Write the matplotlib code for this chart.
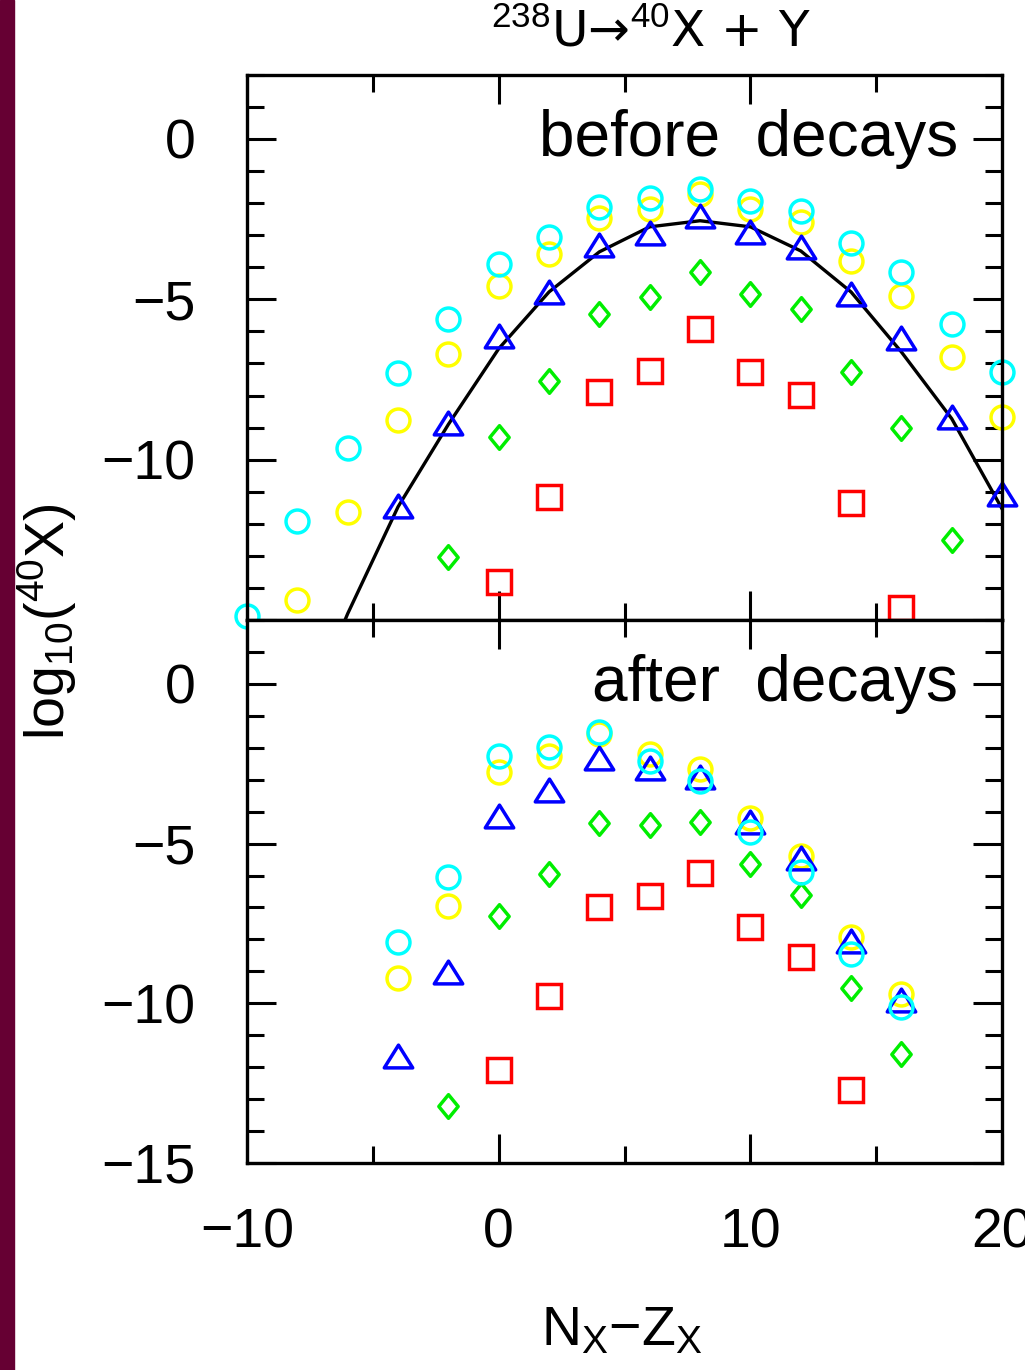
import matplotlib
matplotlib.use('Agg')
import matplotlib.pyplot as plt
import numpy as np
from matplotlib.markers import MarkerStyle
from matplotlib.patches import Rectangle
from matplotlib.path import Path
from matplotlib.ticker import MultipleLocator

plt.rcParams['font.family'] = ['Liberation Sans', 'DejaVu Sans']
plt.rcParams['mathtext.fontset'] = 'custom'
plt.rcParams['mathtext.rm'] = 'Liberation Sans'
plt.rcParams['mathtext.it'] = 'Liberation Sans:italic'
plt.rcParams['mathtext.bf'] = 'Liberation Sans:bold'

# N-Z of the 40X fragment, log10 yields before decays
nz_cyan_pre = np.arange(-10, 21, 2)
cyan_pre = [-14.86, -11.9, -9.63, -7.29, -5.61, -3.89, -3.05, -2.12,
            -1.84, -1.56, -1.93, -2.24, -3.24, -4.14, -5.76, -7.26]
nz_yellow_pre = np.arange(-8, 21, 2)
yellow_pre = [-14.36, -11.62, -8.75, -6.70, -4.58, -3.58, -2.45, -2.18,
              -1.71, -2.18, -2.59, -3.80, -4.89, -6.79, -8.66]
nz_blue_pre = np.arange(-4, 21, 2)
blue_pre = [-11.43, -8.85, -6.14, -4.77, -3.30, -2.93, -2.40, -2.90,
            -3.37, -4.83, -6.20, -8.66, -11.06]
nz_green_pre = np.arange(-2, 19, 2)
green_pre = [-13.02, -9.28, -7.54, -5.45, -4.92, -4.14, -4.83, -5.30,
             -7.26, -9.0, -12.49]
nz_red_pre = np.arange(0, 17, 2)
red_pre = [-13.8, -11.15, -7.88, -7.23, -5.92, -7.26, -7.98, -11.34, -14.61]

# reference curve (top panel)
nz_curve = np.arange(-8, 21, 2)
curve = [-18.55, -14.8, -11.47, -8.9, -6.54, -4.77, -3.52, -2.74,
         -2.55, -2.74, -3.49, -4.77, -6.64, -8.72, -11.53]

# after decays
nz_cyan_post = np.arange(-4, 17, 2)
cyan_post = [-8.09, -6.05, -2.26, -1.97, -1.50, -2.40, -3.04, -4.64,
             -5.89, -8.46, -10.13]
nz_yellow_post = np.arange(-4, 17, 2)
yellow_post = [-9.22, -6.96, -2.76, -2.26, -1.57, -2.19, -2.66, -4.20,
               -5.39, -7.93, -9.72]
nz_blue_post = np.arange(-4, 17, 2)
blue_post = [-11.66, -9.03, -4.14, -3.32, -2.32, -2.63, -2.92, -4.33,
             -5.45, -8.06, -9.9]
nz_green_post = np.arange(-2, 17, 2)
green_post = [-13.2, -7.27, -5.96, -4.36, -4.42, -4.33, -5.64, -6.61,
              -9.53, -11.6]
nz_red_post = np.arange(0, 15, 2)
red_post = [-12.1, -9.78, -6.99, -6.65, -5.92, -7.62, -8.56, -12.7]

CYAN, YELLOW, BLUE, GREEN, RED = '#00ffff', '#ffff00', '#0000ff', '#00ee00', '#ff0000'

tri = MarkerStyle(Path([(0, 0.8), (-1, -0.8), (1, -0.8), (0, 0.8)], closed=True),
                  joinstyle='miter')
dia = MarkerStyle(Path([(0, 1), (0.82, 0), (0, -1), (-0.82, 0), (0, 1)], closed=True),
                  joinstyle='miter')


def pts(ax, x, y, color, marker, ms):
    ax.plot(x, y, linestyle='none', marker=marker, ms=ms, mfc='none',
            mec=color, mew=2.5, clip_on=False)


def frame(ax):
    ax.set_xlim(-10, 20)
    ax.set_ylim(-15, 2)
    ax.xaxis.set_major_locator(MultipleLocator(10))
    ax.xaxis.set_minor_locator(MultipleLocator(5))
    ax.yaxis.set_major_locator(MultipleLocator(5))
    ax.yaxis.set_minor_locator(MultipleLocator(1))
    ax.tick_params(which='both', direction='in', top=True, right=True,
                   width=2.2, labelsize=40)
    ax.tick_params(which='major', length=21)
    ax.tick_params(which='minor', length=12)
    ax.tick_params(axis='y', pad=37)
    ax.tick_params(axis='x', pad=32)
    for s in ax.spines.values():
        s.set_linewidth(2.4)


fig = plt.figure(figsize=(10.25, 13.7), dpi=100)
fig.patches.append(Rectangle((0, 0), 14 / 1025, 1, transform=fig.transFigure,
                             color='#660033', zorder=0))

ax1 = fig.add_axes([0.241, 0.5474, 0.7366, 0.398])
ax2 = fig.add_axes([0.241, 0.1511, 0.7366, 0.3963])

for ax in (ax1, ax2):
    frame(ax)

ax1.plot(nz_curve, curve, color='black', lw=2.4)
pts(ax1, nz_red_pre, red_pre, RED, 's', 17.5)
pts(ax1, nz_green_pre, green_pre, GREEN, dia, 17)
pts(ax1, nz_yellow_pre, yellow_pre, YELLOW, 'o', 16.5)
pts(ax1, nz_blue_pre, blue_pre, BLUE, tri, 20.5)
pts(ax1, nz_cyan_pre, cyan_pre, CYAN, 'o', 16.5)

pts(ax2, nz_red_post, red_post, RED, 's', 17.5)
pts(ax2, nz_green_post, green_post, GREEN, dia, 17)
pts(ax2, nz_yellow_post, yellow_post, YELLOW, 'o', 16.5)
pts(ax2, nz_blue_post, blue_post, BLUE, tri, 20.5)
pts(ax2, nz_cyan_post, cyan_post, CYAN, 'o', 16.5)

ax1.set_yticks([-15, -10, -5, 0])
ax1.set_yticklabels(['', '\u221210', '\u22125', '0'])
ax1.tick_params(labelbottom=False)
ax2.set_yticks([-15, -10, -5, 0])
ax2.set_yticklabels(['\u221215', '\u221210', '\u22125', '0'])
ax2.set_xticks([-10, 0, 10, 20])
ax2.set_xticklabels(['\u221210', '0', '10', '20'])

ax1.text(18.25, 0, 'before  decays', ha='right', va='center', fontsize=46)
ax2.text(18.25, 0, 'after  decays', ha='right', va='center', fontsize=46)

# title: the arrow is drawn in DejaVu, which has a full-size glyph
fig.text(0.635, 0.9657, r'$^{238}$U' + '\u2192' + r'$^{40}$X + Y', ha='center',
         va='baseline', fontsize=36, family=['DejaVu Sans'])
fig.text(0.046, 0.546, r'log$_{10}$($^{40}$X)', rotation=90, ha='center',
         va='center', fontsize=40)
fig.text(0.607, 0.018, r'N$_{\mathrm{X}}$' + '\u2212' + r'Z$_{\mathrm{X}}$',
         ha='center', va='baseline', fontsize=40)

fig.savefig('out.png', dpi=100, facecolor='white')
